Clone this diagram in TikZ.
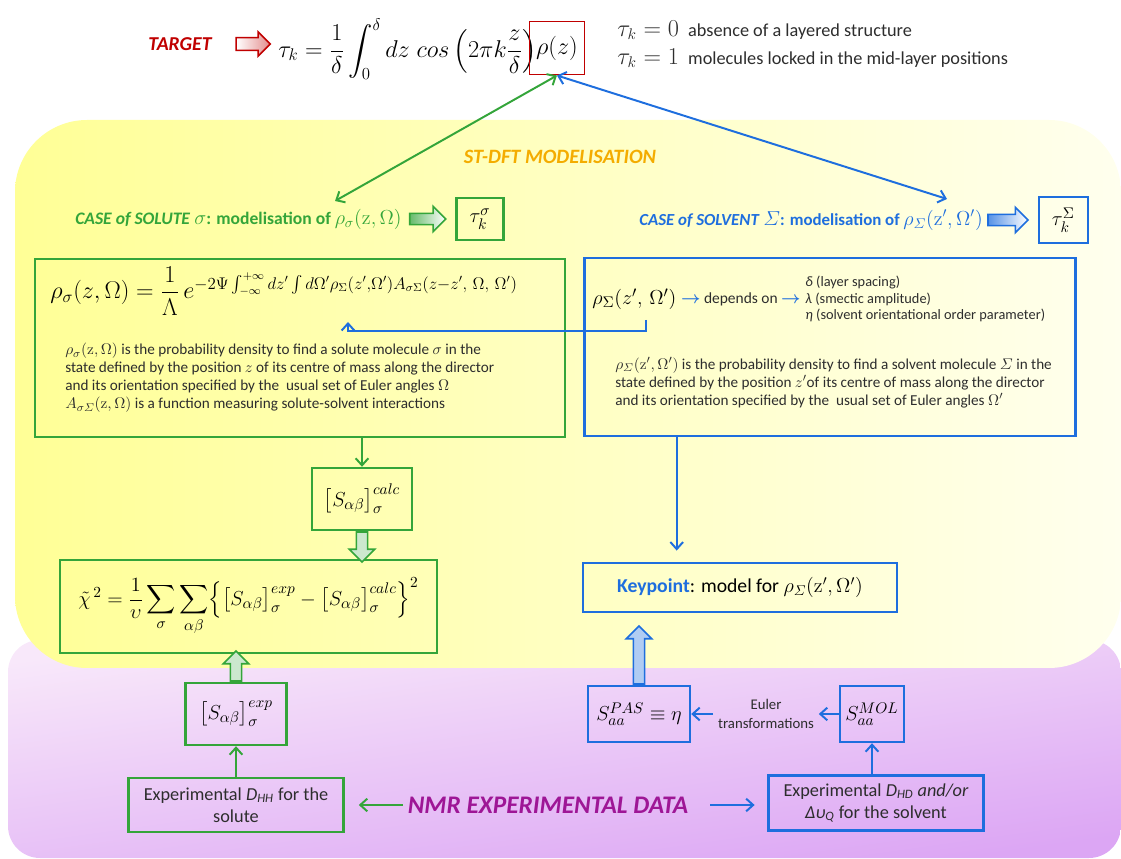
\documentclass[tikz,border=0pt]{standalone}
\usepackage{amsmath}
\usepackage[no-math]{fontspec}
\setmainfont{Carlito}
\usetikzlibrary{arrows.meta,shapes.arrows,positioning,calc}

\definecolor{solgreen}{RGB}{52,165,58}
\definecolor{solblue}{RGB}{30,110,222}
\definecolor{tgtred}{RGB}{192,0,0}
\definecolor{dftorange}{RGB}{244,172,0}
\definecolor{nmrpurple}{RGB}{158,22,150}
\definecolor{txtgray}{RGB}{45,45,45}
\definecolor{yelstrong}{RGB}{255,255,150}
\definecolor{yelpale}{RGB}{255,255,238}
\definecolor{purpale}{RGB}{248,232,250}
\definecolor{purdeep}{RGB}{220,166,244}

\newcommand{\fsz}[2]{\fontsize{#1}{#2}\selectfont}

\begin{document}
\begin{tikzpicture}[x=0.025cm, y=-0.025cm,
    gbox/.style={draw=solgreen, line width=1.7pt, inner sep=0pt, text=black},
    bbox/.style={draw=solblue, line width=1.7pt, inner sep=0pt, text=black},
    glink/.style={draw=solgreen, line width=1.4pt, -{Straight Barb[length=5pt, width=9pt]}},
    blink/.style={draw=solblue, line width=1.4pt, -{Straight Barb[length=5pt, width=9pt]}},
    gboth/.style={glink, {Straight Barb[length=5pt, width=9pt]}-{Straight Barb[length=5pt, width=9pt]}},
    bboth/.style={blink, {Straight Barb[length=5pt, width=9pt]}-{Straight Barb[length=5pt, width=9pt]}},
    fatarrow/.style={single arrow, draw, line width=1.1pt, inner sep=3.5pt,
        single arrow head extend=5pt},
    bodytext/.style={text=txtgray, align=left, inner sep=0pt, font=\fsz{10.8}{12.8}},
    heading/.style={font=\fsz{14.5}{16}\bfseries\itshape}
]
    \useasboundingbox (0,0) rectangle (1121,859);

    % background panels
    \shade[top color=purpale, bottom color=purdeep, shading angle=8, rounded corners=0.8cm]
        (8,640) rectangle (1121,858);
    \shade[left color=yelstrong, right color=yelpale, rounded corners=1.8cm]
        (15,120) rectangle (1121,668);

    % target line
    \node[text=tgtred, font=\fsz{14}{16}\bfseries\itshape] (target) at (180,44) {TARGET};
    \node[fatarrow, draw=tgtred, left color=white, right color=tgtred!45, inner sep=4pt,
        single arrow head extend=4pt, minimum height=0.85cm] (tgtarr) at (250,44) {};
    \node[anchor=west, inner sep=0pt, font=\fsz{18}{20}] (taueq) at (278,49)
        {$\tau_k=\dfrac{1}{\delta}\displaystyle\int_0^\delta dz\;cos\left(2\pi k\dfrac{z}{\delta}\right)$};
    \node[draw=tgtred, line width=1.4pt, minimum width=1.375cm, minimum height=1.325cm,
        inner sep=0pt, font=\fsz{18}{20}] (rhoz) at (557,48) {$\rho(z)$};
    \node[anchor=west, inner sep=0pt, text=txtgray, font=\fsz{13}{15}] (tauzero) at (617,30)
        {{\fsz{16}{18}$\tau_k=0$}\; absence of a layered structure};
    \node[anchor=west, inner sep=0pt, text=txtgray, font=\fsz{13}{15}] (tauone) at (617,58)
        {{\fsz{16}{18}$\tau_k=1$}\; molecules locked in the mid-layer positions};

    \node[heading, text=dftorange] (stdft) at (560,157) {ST-DFT MODELISATION};

    % the two cases
    \node[anchor=west, inner sep=0pt, text=solgreen, font=\fsz{12.5}{14}] (solute) at (75,219)
        {\textbf{\textit{CASE of SOLUTE}} {\fsz{14}{16}$\sigma$}\textbf{: modelisation of} {\fsz{14.5}{16}$\rho_\sigma(\mathrm{z},\Omega)$}};
    \node[fatarrow, draw=solgreen, left color=solgreen!75, right color=white,
        minimum height=0.9cm, right=5pt of solute] (solarr) {};
    \node[gbox, minimum width=1.175cm, minimum height=1.05cm, font=\fsz{15}{17},
        right=6pt of solarr] (tausol) {$\tau_k^\sigma$};

    \node[anchor=east, inner sep=0pt, text=solblue, font=\fsz{12}{14}] (solvent) at (983,220)
        {\textbf{\textit{CASE of SOLVENT}} {\fsz{14}{16}$\varSigma$}\textbf{: modelisation of} {\fsz{14}{16}$\rho_\varSigma(\mathrm{z}',\Omega')$}};
    \node[fatarrow, draw=solblue, left color=solblue!75, right color=white,
        minimum height=1cm, right=3pt of solvent] (slvarr) {};
    \node[bbox, minimum width=1.225cm, minimum height=1.15cm, font=\fsz{15}{17},
        right=6pt of slvarr] (tauslv) {$\tau_k^\Sigma$};

    \coordinate (soltip) at (335,201);
    \coordinate (slvtip) at (947,199);
    \draw[gboth] (rhoz.south) -- (soltip);
    \draw[bboth] (rhoz.south) -- (slvtip);

    % solute model
    \node[gbox, minimum width=13.25cm, minimum height=4.45cm] (solbox) at (300,348) {};
    \node[anchor=west, inner sep=0pt, font=\fsz{17}{19}] (soleq) at (50,291)
        {$\rho_\sigma(z,\Omega)=\dfrac{1}{\Lambda}\,e^{-2\Psi\int_{-\infty}^{+\infty}dz'\int d\Omega'\rho_\Sigma(z',\Omega')A_{\sigma\Sigma}(z-z',\ \Omega,\ \Omega')}$};
    \node[bodytext, anchor=north west] (solpar) at (65,343)
        {$\rho_\sigma(\mathrm{z},\Omega)$ is the probability density to find a solute molecule $\sigma$ in the\\
         state defined by the position $z$ of its centre of mass along the director\\
         and its orientation specified by the \ usual set of Euler angles $\Omega$\\
         $A_{\sigma\varSigma}(\mathrm{z},\Omega)$ is a function measuring solute-solvent interactions};

    % solvent model
    \node[bbox, minimum width=12.275cm, minimum height=4.45cm] (slvbox) at (830,347) {};
    \node[anchor=west, inner sep=0pt, font=\fsz{15}{17}] (slvrho) at (592,299)
        {$\rho_\Sigma(z',\,\Omega')$};
    \node[right=3pt of slvrho, inner sep=0pt, text=txtgray, font=\fsz{11}{13}] (depends)
        {{\color{solblue}\fsz{13}{15}$\boldsymbol{\rightarrow}$} depends on {\color{solblue}\fsz{13}{15}$\boldsymbol{\rightarrow}$}};
    \node[bodytext, anchor=west, font=\fsz{10.2}{12}, right=3pt of depends] (params)
        {\textit{δ} (layer spacing)\\ \textit{λ} (smectic amplitude)\\ \textit{η} (solvent orientational order parameter)};
    \node[bodytext, anchor=north west] (slvpar) at (615,357)
        {$\rho_\varSigma(\mathrm{z}',\Omega')$ is the probability density to find a solvent molecule $\varSigma$ in the\\
         state defined by the position $z'$of its centre of mass along the director\\
         and its orientation specified by the \ usual set of Euler angles $\Omega'$};

    \coordinate (zstub) at (646,320);
    \coordinate (zsig) at (348,322);
    \draw[blink] (zstub) -- ++(0,11) -| (zsig);

    % fitting of the order parameters
    \node[gbox, minimum width=2.5cm, minimum height=1.55cm, font=\fsz{15}{17}] (scalc) at (362,499)
        {$\bigl[S_{\alpha\beta}\bigr]_\sigma^{calc}$};
    \node[gbox, minimum width=9.425cm, minimum height=2.325cm, font=\fsz{15.5}{17}] (chi) at (248.5,606.5)
        {$\tilde\chi^{\,2}=\dfrac{1}{\upsilon}\displaystyle\sum_\sigma\sum_{\alpha\beta}\Bigl\{\bigl[S_{\alpha\beta}\bigr]_\sigma^{exp}-\bigl[S_{\alpha\beta}\bigr]_\sigma^{calc}\Bigr\}^2$};
    \node[gbox, minimum width=2.525cm, minimum height=1.55cm, font=\fsz{15}{17}] (sexp) at (236,714)
        {$\bigl[S_{\alpha\beta}\bigr]_\sigma^{exp}$};
    \node[gbox, minimum width=5.375cm, minimum height=1.35cm, align=center, text=txtgray,
        font=\fsz{13}{15.5}] (dhh) at (236,805) {Experimental \textit{D\textsubscript{HH}} for the\\solute};

    \draw[glink] (solbox.south -| scalc.north) -- (scalc.north);
    \node[fatarrow, draw=solgreen, fill=solgreen!25, rotate=-90, anchor=west,
        minimum height=0.75cm] (calcarr) at (scalc.south) {};
    \node[fatarrow, draw=solgreen, fill=solgreen!25, rotate=90, anchor=west,
        minimum height=0.75cm] (exparr) at (sexp.north) {};
    \draw[glink] (dhh.north) -- (sexp.south);

    % solvent data
    \node[bbox, minimum width=7.85cm, minimum height=1.225cm, font=\fsz{14}{16}] (keyp) at (740,587.5)
        {\textcolor{solblue}{\bfseries Keypoint}: model for $\rho_\varSigma(\mathrm{z}',\Omega')$};
    \node[bbox, minimum width=2.55cm, minimum height=1.4cm, font=\fsz{15}{17}] (spas) at (639,714)
        {$S_{aa}^{PAS}\equiv\eta$};
    \node[align=center, text=txtgray, font=\fsz{10.5}{13}] (euler) at (766,714) {Euler\\transformations};
    \node[bbox, minimum width=1.6cm, minimum height=1.4cm, font=\fsz{15}{17}] (smol) at (872,714)
        {$S_{aa}^{MOL}$};
    \node[bbox, minimum width=5.375cm, minimum height=1.375cm, align=center, text=txtgray,
        font=\fsz{13}{15.5}] (dhd) at (876,803)
        {Experimental \textit{D\textsubscript{HD} and/or}\\\textit{Δυ\textsubscript{Q}} for the solvent};

    \coordinate (kin) at ($(keyp.north west)!0.3!(keyp.north east)$);
    \draw[blink, shorten >=8pt] (slvbox.south -| kin) -- (kin);
    \node[fatarrow, draw=solblue, fill=solblue!35, rotate=90, anchor=west,
        minimum height=1.45cm] (keyarr) at (spas.north) {};
    \draw[blink] (dhd.north -| smol.south) -- (smol.south);
    \draw[blink] (smol.west) -- (euler.east);
    \draw[blink] (euler.west) -- (spas.east);

    % NMR data
    \node[text=nmrpurple, font=\fsz{18}{20}\bfseries\itshape] (nmr) at (548,805) {NMR EXPERIMENTAL DATA};
    \draw[glink, shorten >=10pt] (nmr.west) -- (nmr.west -| dhh.east);
    \draw[blink, shorten <=12pt, shorten >=9pt] (nmr.east) -- (nmr.east -| dhd.west);
\end{tikzpicture}
\end{document}
